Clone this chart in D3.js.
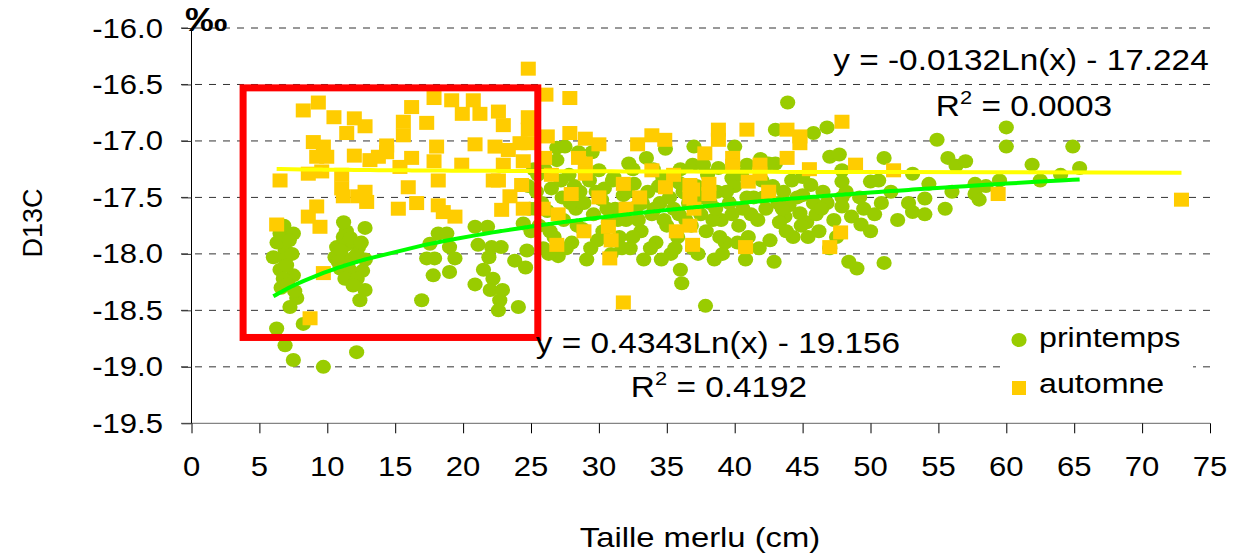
<!DOCTYPE html>
<html>
<head>
<meta charset="utf-8">
<script src="https://cdn.jsdelivr.net/npm/d3@7"></script>
<style>
body { margin: 0; background: #fff; }
text { font-family: "Liberation Sans", Arial, sans-serif; fill: #000; }
</style>
</head>
<body>
<svg id="chart" width="1244" height="554"></svg>
<script>
// ticks
var xTicks = [0, 5, 10, 15, 20, 25, 30, 35, 40, 45, 50, 55, 60, 65, 70, 75];
var yTicks = [-16.0, -16.5, -17.0, -17.5, -18.0, -18.5, -19.0, -19.5];

// printemps (green circles) : [taille cm, D13C]
var printemps = [
  [6.03,-18.03],[6.52,-17.82],[7.5,-17.82],[6.9,-17.97],[6.89,-18.05],[6.52,-18.14],[7.5,-18.19],[6.76,-18.22],
  [7.75,-18.39],[7.25,-18.47],[6.27,-18.66],[6.89,-18.81],[7.5,-18.94],[8.23,-18.62],[12.16,-18.87],[9.71,-19.0],
  [6.3,-17.9],[6.8,-17.75],[7.0,-18.1],[7.2,-17.88],[6.6,-18.3],[7.4,-18.0],[7.1,-18.27],[7.6,-18.33],
  [11.18,-17.85],[11.4,-17.8],[12.78,-17.77],[10.69,-17.94],[11.4,-17.92],[12.3,-17.94],[10.57,-18.03],[11.3,-18.05],
  [12.0,-18.03],[12.8,-18.05],[10.94,-18.13],[11.7,-18.15],[12.6,-18.15],[11.3,-18.22],[12.2,-18.22],[12.78,-18.32],
  [12.4,-18.41],[11.0,-17.97],[11.7,-17.86],[12.2,-18.0],[11.5,-18.1],[10.8,-18.07],[12.5,-17.9],[11.9,-18.28],[11.2,-17.72],
  [16.95,-18.41],[17.8,-18.19],[17.32,-18.04],[17.9,-18.04],[17.56,-17.91],[18.17,-17.82],[18.8,-17.82],[19.0,-17.94],
  [19.4,-18.04],[19.0,-18.16],
  [20.88,-17.76],[21.8,-17.76],[21.1,-17.92],[22.1,-17.94],[22.8,-17.94],[21.9,-18.03],[23.8,-18.06],[21.5,-18.14],
  [22.2,-18.22],[20.88,-18.27],[22.0,-18.32],[22.9,-18.32],[22.7,-18.41],[22.6,-18.5],[24.07,-18.47],[24.6,-18.12],
  [24.7,-17.97],[24.43,-17.73],[24.9,-17.6],[25.2,-17.25],[25.4,-17.45],[25.3,-17.6],[25.0,-17.8],[24.8,-17.4],
  [26.9,-17.06],[26.9,-17.17],[28.5,-17.1],[30.0,-17.26],[31.1,-17.32],[32.2,-17.2],[33.5,-17.15],[34.9,-17.07],
  [34.0,-17.25],[35.9,-17.37],[36.3,-17.46],[36.9,-17.21],[37.7,-17.21],[38.8,-17.24],[39.8,-17.33],[40.9,-17.21],
  [41.9,-17.16],[43.0,-17.2],[43.0,-16.9],[43.9,-16.66],[45.8,-16.93],[46.8,-16.88],[45.0,-17.32],[45.6,-17.39],
  [45.0,-17.48],[44.0,-17.57],[43.7,-17.67],[47.0,-17.14],[47.7,-17.12],[47.9,-17.26],[47.9,-17.36],[47.9,-17.5],
  [47.9,-17.58],[48.6,-17.67],[49.3,-17.74],[50.0,-17.36],[50.6,-17.35],[51.0,-17.15],[53.1,-17.29],[53.1,-17.63],
  [54.0,-17.51],[54.0,-17.65],[54.3,-17.38],[54.9,-16.99],[55.7,-17.15],[56.3,-17.22],[57.0,-17.18],[57.7,-17.38],
  [57.7,-17.47],[58.0,-17.52],[60.0,-16.88],[60.0,-17.05],[61.9,-17.21],[64.9,-17.05],[65.4,-17.24],
  [25.5,-17.3],[25.8,-17.55],[25.6,-17.75],[25.9,-17.95],[26.2,-17.62],[26.5,-17.42],[26.7,-17.85],[27.0,-18.02],
  [27.3,-17.5],[27.4,-17.7],[27.8,-17.3],[28.0,-17.9],[28.3,-17.6],[28.6,-17.45],[28.8,-17.78],[29.1,-18.05],
  [29.3,-17.35],[29.6,-17.65],[29.9,-17.88],[30.2,-17.52],[30.4,-17.42],[30.7,-17.72],[30.9,-18.0],[31.2,-17.6],
  [31.5,-17.85],[31.8,-17.48],[32.0,-17.7],[32.3,-17.95],[32.6,-17.38],[32.8,-17.58],[33.1,-17.8],[33.3,-18.05],
  [33.6,-17.45],[33.9,-17.65],[34.2,-17.9],[34.5,-17.55],[34.7,-17.32],[35.0,-17.75],[35.3,-18.0],[35.5,-17.6],
  [35.8,-17.85],[36.0,-18.14],[36.1,-18.26],[36.4,-17.7],[36.6,-17.55],[36.9,-17.95],[37.2,-17.4],[37.5,-17.65],
  [37.85,-18.46],[37.9,-17.8],[38.2,-17.55],[38.5,-18.05],[38.7,-17.45],[39.0,-17.7],[39.3,-17.9],[39.6,-17.55],
  [40.0,-17.4],[40.3,-17.75],[40.8,-18.05],[40.6,-17.6],[41.0,-17.85],[41.4,-17.5],[41.7,-17.7],[42.0,-17.35],
  [42.3,-17.6],[42.6,-17.88],[42.9,-18.07],[43.3,-17.72],[43.6,-17.45],[44.3,-17.85],[44.8,-17.64],[45.3,-17.72],
  [45.8,-17.55],[46.2,-17.8],[46.5,-17.45],[47.0,-17.95],[47.3,-17.7],[48.4,-18.07],[49.0,-18.13],[49.5,-17.6],
  [50.0,-17.8],[51.0,-18.08],[50.8,-17.55],[51.5,-17.45],[52.0,-17.7],[52.8,-17.55],[55.5,-17.6],[56.0,-17.45],
  [58.5,-17.4],[59.5,-17.35],[62.5,-17.35],[64.0,-17.3],
  [26.0,-17.25],[26.4,-17.8],[27.2,-17.35],[27.6,-17.95],[28.2,-17.4],[28.9,-17.55],[29.4,-17.95],[29.8,-17.45],
  [30.3,-17.8],[31.0,-17.35],[31.4,-17.7],[32.1,-17.45],[32.5,-17.85],[33.2,-17.55],[33.8,-17.95],[34.4,-17.4],
  [34.8,-17.7],[35.2,-17.5],[35.6,-17.95],[36.2,-17.45],[36.8,-17.75],[37.3,-18.0],[37.6,-17.5],[38.0,-17.3],
  [38.4,-17.7],[38.9,-17.85],[39.4,-17.45],[39.8,-17.65],[40.2,-17.9],[40.5,-17.3],[41.2,-17.65],[41.8,-17.95],
  [42.1,-17.5],[42.8,-17.4],[43.2,-17.55],[43.8,-17.8],[44.2,-17.35],[44.6,-17.5],[45.4,-17.85],[46.0,-17.65],
  [46.8,-17.55],[47.5,-17.85],[48.2,-17.45],[49.2,-17.5],[50.3,-17.65],
  [27.5,-17.05],[29.5,-17.1],[32.5,-17.25],[36.0,-17.25],[37.0,-17.05],[40.0,-17.05],[42.5,-17.2],
  [26.3,-18.0],[28.4,-17.75],[30.6,-17.6],[32.9,-17.7],[34.1,-17.6],[35.9,-17.65],[38.6,-17.6],[40.9,-17.5],
  [43.5,-17.6],[27.9,-17.55],[31.7,-17.95],[34.6,-18.05],[39.1,-18.0],[44.9,-17.75],[46.4,-17.6]
];

// automne (yellow squares)
var automne = [
  [8.23,-16.73],[9.34,-16.66],[10.49,-16.79],[11.99,-16.8],[11.43,-16.93],[12.78,-16.87],[8.97,-17.01],[9.71,-17.05],
  [9.22,-17.14],[9.96,-17.14],[6.52,-17.35],[8.6,-17.29],[9.59,-17.27],[11.06,-17.3],[11.06,-17.42],[11.18,-17.49],
  [11.99,-17.13],[13.14,-17.17],[13.76,-17.14],[14.37,-17.04],[14.37,-17.1],[12.78,-17.45],[12.9,-17.54],[12.28,-17.49],
  [15.6,-16.83],[16.21,-16.7],[17.32,-16.84],[15.6,-16.95],[17.86,-16.62],[19.16,-16.64],[20.75,-16.64],[19.94,-16.76],
  [21.24,-16.76],[22.6,-16.74],[22.96,-16.86],[24.8,-16.79],[24.8,-16.9],[24.8,-17.02],[18.05,-17.05],[16.21,-17.15],
  [15.35,-17.23],[17.86,-17.18],[19.9,-17.21],[20.88,-17.03],[22.35,-17.05],[23.33,-17.08],[24.19,-17.02],[22.96,-17.21],
  [24.43,-17.18],[18.17,-17.35],[15.96,-17.41],[15.23,-17.6],[16.58,-17.55],[18.17,-17.57],[18.54,-17.63],[19.4,-17.67],
  [22.22,-17.35],[22.6,-17.35],[24.31,-17.39],[23.45,-17.49],[22.84,-17.61],[24.43,-17.6],[8.6,-17.67],[9.22,-17.58],
  [9.46,-17.76],[6.27,-17.74],[9.71,-18.17],[8.73,-18.57],[24.8,-16.36],
  [26.1,-16.59],[27.86,-16.62],[26.2,-16.96],[27.86,-16.93],[29.0,-16.98],[30.0,-17.03],[32.85,-17.03],[33.9,-16.95],
  [34.85,-16.99],[38.8,-16.9],[38.8,-16.99],[40.9,-16.9],[43.85,-16.9],[44.8,-16.96],[44.8,-17.02],[47.9,-16.83],
  [37.8,-17.11],[39.85,-17.15],[39.85,-17.22],[43.86,-17.15],[41.86,-17.21],[41.86,-17.29],[48.9,-17.21],[51.7,-17.26],
  [29.0,-17.2],[29.0,-17.29],[33.9,-17.26],[31.8,-17.38],[34.9,-17.41],[36.7,-17.39],[38.1,-17.38],[41.0,-17.36],
  [36.7,-17.5],[38.1,-17.47],[27.96,-17.47],[59.4,-17.47],[72.9,-17.52],[30.7,-17.76],[31.8,-18.43],
  [26.5,-17.3],[27.0,-17.65],[28.9,-17.8],[26.9,-17.92],[25.9,-17.6],[30.8,-18.04],[30.9,-17.88],[36.7,-17.75],
  [36.9,-17.92],[36.9,-17.43],[40.8,-17.94],[47.0,-17.94],[47.8,-17.81],[32.0,-17.6],[33.0,-17.5],[35.5,-17.3],
  [37.0,-17.6],[42.5,-17.45],[45.5,-17.25],[35.7,-17.8],[30.0,-17.5],[28.5,-17.15],[26.0,-17.15]
];

// log trend lines y = a Ln(x) + b
var trendPrintemps = [0.4343, -19.156];
var trendAutomne = [-0.0132, -17.224];

// highlighted zone (data units): x from, x to, y top, y bottom
var zoneX = [3.8, 25.5];
var zoneY = [-16.53, -18.74];

var SX = 1.15; // text is a little wider than tall in the picture

var svg = d3.select('#chart');

var x = d3.scaleLinear().domain([0, 75]).range([191.5, 1210]);
var y = d3.scaleLinear().domain([-19.5, -16]).range([423.3, 28]);

function label(px, py, str, size, anchor) {
  return svg.append('text')
    .attr('transform', 'translate(' + px + ',' + py + ') scale(' + SX + ',1)')
    .attr('font-size', size)
    .attr('text-anchor', anchor)
    .text(str);
}

// dashed grid
svg.append('g').selectAll('line')
  .data(yTicks.slice(0, -1))
  .enter().append('line')
  .attr('x1', 181).attr('x2', 1210)
  .attr('y1', function(d) { return y(d); })
  .attr('y2', function(d) { return y(d); })
  .attr('stroke', '#333')
  .attr('stroke-width', 1)
  .attr('stroke-dasharray', '7,7');

// axes
var bottomAxis = d3.axisBottom(x).tickValues(xTicks).tickSize(10).tickFormat('');
var gx = svg.append('g')
  .attr('transform', 'translate(0,' + y(-19.5) + ')')
  .call(bottomAxis);
gx.select('.domain').attr('stroke', '#666').attr('d', 'M181,0H1210');
gx.selectAll('.tick line').attr('stroke', '#000');

var leftAxis = d3.axisLeft(y).tickValues(yTicks).tickSize(10).tickFormat('');
var gy = svg.append('g')
  .attr('transform', 'translate(' + x(0) + ',0)')
  .call(leftAxis);
gy.select('.domain').attr('stroke', '#000').attr('d', 'M0,' + y(-16) + 'V' + y(-19.5));
gy.selectAll('.tick line').attr('stroke', '#333');

xTicks.forEach(function(t) { label(x(t), 476, String(t), 27, 'middle'); });
yTicks.forEach(function(t) { label(163, y(t) + 9.5, t.toFixed(1), 27, 'end'); });

// points
svg.append('g').selectAll('ellipse')
  .data(printemps)
  .enter().append('ellipse')
  .attr('cx', function(d) { return x(d[0]); })
  .attr('cy', function(d) { return y(d[1]); })
  .attr('rx', 7.6).attr('ry', 7)
  .attr('fill', '#99CC00');

svg.append('g').selectAll('rect')
  .data(automne)
  .enter().append('rect')
  .attr('x', function(d) { return x(d[0]) - 7.5; })
  .attr('y', function(d) { return y(d[1]) - 7; })
  .attr('width', 15).attr('height', 14)
  .attr('fill', '#FFCC00');

// trend lines, evaluated at the observed sizes
function trend(data, coef) {
  var xs = Array.from(new Set(data.map(function(d) { return d[0]; }))).sort(d3.ascending);
  return xs.map(function(v) { return [v, coef[0] * Math.log(v) + coef[1]]; });
}
var line = d3.line()
  .x(function(d) { return x(d[0]); })
  .y(function(d) { return y(d[1]); });

svg.append('path')
  .datum(trend(automne, trendAutomne))
  .attr('d', line)
  .attr('fill', 'none').attr('stroke', '#FFFF00').attr('stroke-width', 4);
svg.append('path')
  .datum(trend(printemps, trendPrintemps))
  .attr('d', line)
  .attr('fill', 'none').attr('stroke', '#00FF00').attr('stroke-width', 4);

// red zone
svg.append('rect')
  .attr('x', x(zoneX[0])).attr('y', y(zoneY[0]))
  .attr('width', x(zoneX[1]) - x(zoneX[0]))
  .attr('height', y(zoneY[1]) - y(zoneY[0]))
  .attr('fill', 'none').attr('stroke', '#FF0000').attr('stroke-width', 7);

// equations
label(1021, 70, 'y = -0.0132Ln(x) - 17.224', 29, 'middle');
var r1 = label(1024, 116, 'R', 29, 'middle');
r1.append('tspan').attr('font-size', 19).attr('dy', -12).text('2');
r1.append('tspan').attr('dy', 12).text(' = 0.0003');
label(718, 353, 'y = 0.4343Ln(x) - 19.156', 29, 'middle');
var r2 = label(719, 397, 'R', 29, 'middle');
r2.append('tspan').attr('font-size', 19).attr('dy', -12).text('2');
r2.append('tspan').attr('dy', 12).text(' = 0.4192');

// legend
svg.append('rect')
  .attr('x', 1000).attr('y', 316).attr('width', 193).attr('height', 94)
  .attr('fill', '#fff');
svg.append('ellipse')
  .attr('cx', 1019).attr('cy', 340).attr('rx', 7.6).attr('ry', 7)
  .attr('fill', '#99CC00');
svg.append('rect')
  .attr('x', 1012).attr('y', 381).attr('width', 14).attr('height', 14)
  .attr('fill', '#FFCC00');
label(1039, 347, 'printemps', 28, 'start');
label(1039, 393, 'automne', 28, 'start');

// titles
label(700, 547, 'Taille merlu (cm)', 28.5, 'middle');
svg.append('text')
  .attr('transform', 'translate(42,223) rotate(-90)')
  .attr('font-size', 27)
  .attr('text-anchor', 'middle')
  .text('D13C');
svg.append('text')
  .attr('transform', 'translate(185,31) scale(1.25,1)')
  .attr('font-size', 34)
  .attr('font-weight', 'bold')
  .text('‰');
</script>
</body>
</html>
